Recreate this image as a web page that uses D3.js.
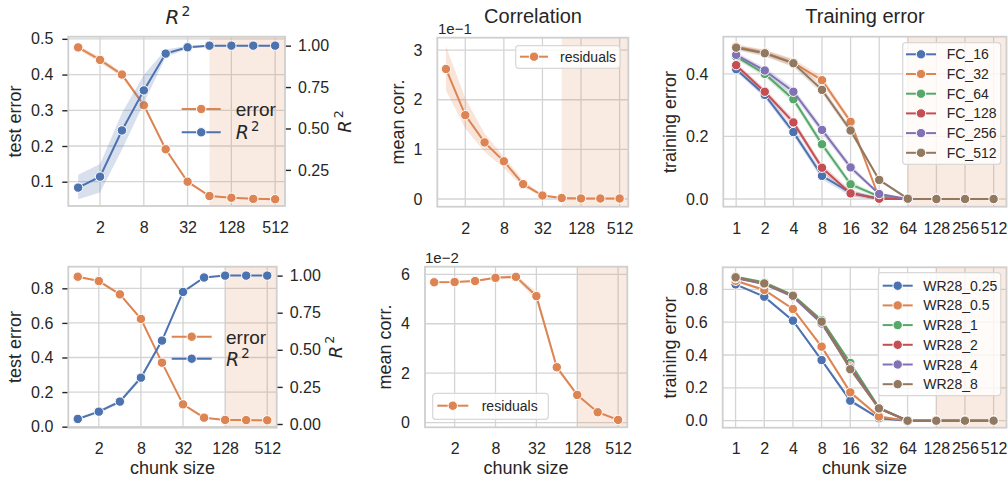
<!DOCTYPE html>
<html lang="en">
<head>
<meta charset="UTF-8">
<title>Chunk size: test error, correlation, training error</title>
<script src="https://d3js.org/d3.v7.min.js"></script>
<style>
  body { margin: 0; background: #fff; }
  svg text { font-family: "Liberation Sans", Arial, sans-serif; fill: #262626; }
</style>
</head>
<body>
<svg width="1008" height="477"></svg>
<script>
// ---- data ----
var chunkSizes = [1, 2, 4, 8, 16, 32, 64, 128, 256, 512];
var sparseTicks = [2, 8, 32, 128, 512];

// top-left: test error (left axis) and R^2 (right axis)
var errTop    = [0.476, 0.441, 0.400, 0.314, 0.191, 0.100, 0.060, 0.055, 0.052, 0.051];
var errTopSd  = [0.006, 0.008, 0.006, 0.006, 0.004, 0.002, 0.002, 0.002, 0.002, 0.002];
var r2Top     = [0.143, 0.209, 0.488, 0.730, 0.952, 0.990, 1.000, 1.000, 1.000, 1.000];
var r2TopLo   = [0.073, 0.113, 0.371, 0.653, 0.932, 0.980, 0.996, 0.997, 0.997, 0.997];
var r2TopHi   = [0.220, 0.286, 0.593, 0.825, 0.976, 1.000, 1.004, 1.003, 1.003, 1.003];

// top-middle: mean corr. (x 1e-1)
var corrTop   = [2.62, 1.69, 1.14, 0.76, 0.30, 0.07, 0.02, 0.01, 0.01, 0.01];
var corrTopLo = [2.19, 1.42, 0.95, 0.62, 0.24, 0.05, 0.01, 0.00, 0.00, 0.00];
var corrTopHi = [3.08, 2.03, 1.32, 0.85, 0.38, 0.09, 0.03, 0.02, 0.02, 0.02];

// top-right: training error per FC width
var fcNames = ["FC_16", "FC_32", "FC_64", "FC_128", "FC_256", "FC_512"];
var fc16  = [0.415, 0.333, 0.214, 0.074, 0.020, 0.001, 0, 0, 0, 0];
var fc32  = [0.487, 0.468, 0.436, 0.380, 0.247, 0.003, 0, 0, 0, 0];
var fc64  = [0.455, 0.400, 0.319, 0.175, 0.047, 0.008, 0, 0, 0, 0];
var fc128 = [0.428, 0.343, 0.245, 0.100, 0.018, 0.001, 0, 0, 0, 0];
var fc256 = [0.461, 0.411, 0.343, 0.221, 0.101, 0.016, 0, 0, 0, 0];
var fc512 = [0.484, 0.466, 0.434, 0.349, 0.219, 0.061, 0.001, 0, 0, 0];
var fcSd  = [0.008, 0.010, 0.012, 0.012, 0.010, 0.004, 0.001, 0, 0, 0];

// bottom-left
var errBot    = [0.867, 0.842, 0.765, 0.623, 0.370, 0.129, 0.052, 0.039, 0.038, 0.037];
var errBotSd  = [0.004, 0.004, 0.004, 0.004, 0.004, 0.003, 0.002, 0.002, 0.002, 0.002];
var r2Bot     = [0.034, 0.083, 0.151, 0.312, 0.562, 0.890, 0.987, 1.000, 1.000, 1.000];
var r2BotSd   = [0.006, 0.010, 0.012, 0.014, 0.012, 0.008, 0.003, 0.002, 0.002, 0.002];

// bottom-middle: mean corr. (x 1e-2)
var corrBot   = [5.68, 5.69, 5.73, 5.86, 5.90, 5.12, 2.24, 1.12, 0.42, 0.11];
var corrBotSd = [0.03, 0.03, 0.04, 0.05, 0.08, 0.18, 0.10, 0.06, 0.04, 0.03];

// bottom-right: training error per WR28 width
var wrNames = ["WR28_0.25", "WR28_0.5", "WR28_1", "WR28_2", "WR28_4", "WR28_8"];
var wr025 = [0.830, 0.755, 0.609, 0.369, 0.122, 0.015, 0, 0, 0, 0];
var wr05  = [0.852, 0.796, 0.680, 0.451, 0.173, 0.025, 0, 0, 0, 0];
var wr1   = [0.876, 0.842, 0.765, 0.612, 0.352, 0.080, 0, 0, 0, 0];
var wr2   = [0.870, 0.835, 0.758, 0.598, 0.330, 0.076, 0, 0, 0, 0];
var wr4   = [0.868, 0.832, 0.755, 0.592, 0.322, 0.074, 0, 0, 0, 0];
var wr8   = [0.873, 0.836, 0.761, 0.603, 0.313, 0.075, 0, 0, 0, 0];
var wrSd  = [0.006, 0.008, 0.008, 0.010, 0.012, 0.006, 0.001, 0, 0, 0];

var palette = ["#4c72b0", "#dd8452", "#55a868", "#c44e52", "#8172b3", "#937860"];

var svg = d3.select("svg");

function lower(m, s) { return m.map(function(v, i) { return v - s[i]; }); }
function upper(m, s) { return m.map(function(v, i) { return v + s[i]; }); }

// one axes box: grid, shaded span, left axis, bottom axis
function panel(p) {
  var x = d3.scaleLog().base(2)
    .domain([Math.pow(2, -0.45), Math.pow(2, 9.45)])
    .range([p.left, p.right]);
  var y = d3.scaleLinear().domain(p.yDomain).range([p.bottom, p.top]);
  var g = svg.append("g");

  g.append("rect")
    .attr("x", p.left).attr("y", p.top)
    .attr("width", p.right - p.left).attr("height", p.bottom - p.top)
    .attr("fill", "#fff");

  g.selectAll(".vgrid").data(p.xTicks).join("line")
    .attr("x1", function(d) { return x(d); }).attr("x2", function(d) { return x(d); })
    .attr("y1", p.top).attr("y2", p.bottom)
    .attr("stroke", "#d4d4d4").attr("stroke-width", 1.3);
  g.selectAll(".hgrid").data(p.yTicks).join("line")
    .attr("x1", p.left).attr("x2", p.right)
    .attr("y1", function(d) { return y(d); }).attr("y2", function(d) { return y(d); })
    .attr("stroke", "#d4d4d4").attr("stroke-width", 1.3);

  g.append("rect")
    .attr("x", x(p.shadeFrom)).attr("y", p.top)
    .attr("width", p.right - x(p.shadeFrom)).attr("height", p.bottom - p.top)
    .attr("fill", "#dd8452").attr("opacity", 0.17);

  var ay = g.append("g")
    .attr("transform", "translate(" + p.left + ",0)")
    .call(d3.axisLeft(y).tickValues(p.yTicks).tickFormat(d3.format(p.yFmt))
      .tickSize(p.ticks ? 6 : 0).tickPadding(p.ticks ? 9 : 15));
  ay.attr("font-size", 16);
  ay.select(".domain").remove();
  ay.selectAll("line").attr("stroke", "#262626").attr("stroke-width", 1.4);

  var ax = g.append("g")
    .attr("transform", "translate(0," + p.bottom + ")")
    .call(d3.axisBottom(x).tickValues(p.xTicks).tickFormat(d3.format("d"))
      .tickSize(0).tickPadding(p.xPad));
  ax.attr("font-size", 16);
  ax.select(".domain").remove();

  return { x: x, y: y, g: g, p: p };
}

function frame(P) {
  var p = P.p;
  svg.append("rect")
    .attr("x", p.left).attr("y", p.top)
    .attr("width", p.right - p.left).attr("height", p.bottom - p.top)
    .attr("fill", "none").attr("stroke", "#cfcfcf").attr("stroke-width", 1.8);
}

function series(P, y, mean, lo, hi, color) {
  var x = P.x, g = P.g;
  var area = d3.area()
    .x(function(d, i) { return x(chunkSizes[i]); })
    .y0(function(d, i) { return y(lo[i]); })
    .y1(function(d, i) { return y(hi[i]); });
  g.append("path").datum(mean).attr("d", area)
    .attr("fill", color).attr("opacity", 0.22);
  var line = d3.line()
    .x(function(d, i) { return x(chunkSizes[i]); })
    .y(function(d) { return y(d); });
  g.append("path").datum(mean).attr("d", line)
    .attr("fill", "none").attr("stroke", color).attr("stroke-width", 2);
  g.append("g").selectAll("circle").data(mean).join("circle")
    .attr("cx", function(d, i) { return x(chunkSizes[i]); })
    .attr("cy", function(d) { return y(d); })
    .attr("r", 4.7)
    .attr("fill", color).attr("stroke", "#fff").attr("stroke-width", 1);
}

function rightAxis(P, domain, ticks) {
  var p = P.p;
  var y2 = d3.scaleLinear().domain(domain).range([p.bottom, p.top]);
  var a = P.g.append("g")
    .attr("transform", "translate(" + p.right + ",0)")
    .call(d3.axisRight(y2).tickValues(ticks).tickFormat(d3.format(".2f"))
      .tickSize(6).tickPadding(7));
  a.attr("font-size", 16);
  a.select(".domain").remove();
  a.selectAll("line").attr("stroke", "#262626").attr("stroke-width", 1.4);
  return y2;
}

function rText(sel, size) {
  sel.append("tspan").attr("font-family", "DejaVu Sans").attr("font-style", "italic").text("R");
  sel.append("tspan").attr("font-family", "DejaVu Sans").attr("font-size", size * 0.7)
    .attr("dy", -size * 0.42).attr("dx", 2).text("2");
}

function yLabel(x, y, txt) {
  svg.append("text")
    .attr("transform", "translate(" + x + "," + y + ") rotate(-90)")
    .attr("text-anchor", "middle").attr("font-size", 18).text(txt);
}

function legend(items, o) {
  var lg = svg.append("g");
  if (o.box) {
    lg.append("rect")
      .attr("x", o.box[0]).attr("y", o.box[1])
      .attr("width", o.box[2] - o.box[0]).attr("height", o.box[3] - o.box[1])
      .attr("rx", 3).attr("fill", "#fff").attr("fill-opacity", 0.8)
      .attr("stroke", "#d8d8d8").attr("stroke-width", 1.2);
  }
  items.forEach(function(it, i) {
    var cy = o.y0 + i * o.dy;
    lg.append("line")
      .attr("x1", o.x0).attr("x2", o.x0 + o.len).attr("y1", cy).attr("y2", cy)
      .attr("stroke", it.color).attr("stroke-width", 2);
    lg.append("circle")
      .attr("cx", o.x0 + o.len / 2).attr("cy", cy).attr("r", 4.7)
      .attr("fill", it.color).attr("stroke", "#fff").attr("stroke-width", 1);
    var t = lg.append("text").attr("x", o.tx).attr("y", cy + o.size * 0.36)
      .attr("font-size", o.size);
    if (it.label === "R2") rText(t, o.size); else t.text(it.label);
  });
}

// ---- top-left ----
var A = panel({ left: 68.3, right: 285, top: 36.7, bottom: 206,
  yDomain: [0.032, 0.506], yTicks: [0.1, 0.2, 0.3, 0.4, 0.5], yFmt: ".1f",
  ticks: true, xTicks: sparseTicks, shadeFrom: 64, xPad: 16 });
series(A, A.y, errTop, lower(errTop, errTopSd), upper(errTop, errTopSd), palette[1]);
var A2 = rightAxis(A, [0.032, 1.054], [0.25, 0.5, 0.75, 1.0]);
series(A, A2, r2Top, r2TopLo, r2TopHi, palette[0]);
frame(A);

// ---- top-middle ----
var B = panel({ left: 437.3, right: 628.3, top: 37.7, bottom: 206.7,
  yDomain: [-0.155, 3.25], yTicks: [0, 1, 2, 3], yFmt: "d",
  ticks: false, xTicks: sparseTicks, shadeFrom: 64, xPad: 16 });
series(B, B.y, corrTop, corrTopLo, corrTopHi, palette[1]);
frame(B);

// ---- top-right ----
var C = panel({ left: 723.3, right: 1006.5, top: 36.7, bottom: 206.7,
  yDomain: [-0.0246, 0.519], yTicks: [0, 0.2, 0.4], yFmt: ".1f",
  ticks: false, xTicks: chunkSizes, shadeFrom: 64, xPad: 16 });
[fc16, fc32, fc64, fc128, fc256, fc512].forEach(function(s, i) {
  series(C, C.y, s, lower(s, fcSd), upper(s, fcSd), palette[i]);
});
frame(C);

// ---- bottom-left ----
var D = panel({ left: 68.3, right: 276.7, top: 266.7, bottom: 427.7,
  yDomain: [-0.006, 0.925], yTicks: [0, 0.2, 0.4, 0.6, 0.8], yFmt: ".1f",
  ticks: true, xTicks: sparseTicks, shadeFrom: 128, xPad: 15 });
series(D, D.y, errBot, lower(errBot, errBotSd), upper(errBot, errBotSd), palette[1]);
var D2 = rightAxis(D, [-0.025, 1.06], [0, 0.25, 0.5, 0.75, 1.0]);
series(D, D2, r2Bot, lower(r2Bot, r2BotSd), upper(r2Bot, r2BotSd), palette[0]);
frame(D);

// ---- bottom-middle ----
var E = panel({ left: 425, right: 627.3, top: 266.7, bottom: 427.3,
  yDomain: [-0.19, 6.31], yTicks: [0, 2, 4, 6], yFmt: "d",
  ticks: false, xTicks: sparseTicks, shadeFrom: 128, xPad: 15 });
series(E, E.y, corrBot, lower(corrBot, corrBotSd), upper(corrBot, corrBotSd), palette[1]);
frame(E);

// ---- bottom-right ----
var F = panel({ left: 722.7, right: 1006.5, top: 267.3, bottom: 427.7,
  yDomain: [-0.0426, 0.934], yTicks: [0, 0.2, 0.4, 0.6, 0.8], yFmt: ".1f",
  ticks: false, xTicks: chunkSizes, shadeFrom: 128, xPad: 15 });
[wr025, wr05, wr1, wr2, wr4, wr8].forEach(function(s, i) {
  series(F, F.y, s, lower(s, wrSd), upper(s, wrSd), palette[i]);
});
frame(F);

// ---- titles, labels, legends ----
var tA = svg.append("text").attr("x", 178).attr("y", 24).attr("text-anchor", "middle").attr("font-size", 20);
rText(tA, 20);
svg.append("text").attr("x", 533).attr("y", 22.5).attr("text-anchor", "middle").attr("font-size", 20).text("Correlation");
svg.append("text").attr("x", 865).attr("y", 22.5).attr("text-anchor", "middle").attr("font-size", 20).text("Training error");

svg.append("text").attr("x", 438).attr("y", 33.5).attr("font-size", 15).text("1e\u22121");
svg.append("text").attr("x", 425).attr("y", 263).attr("font-size", 15).text("1e\u22122");

yLabel(21, 121.5, "test error");
yLabel(21, 347, "test error");
yLabel(404, 122, "mean corr.");
yLabel(391, 347, "mean corr.");
yLabel(676, 122, "training error");
yLabel(676, 347.5, "training error");

[[351, 121.5], [342, 347]].forEach(function(c) {
  var t = svg.append("text")
    .attr("transform", "translate(" + c[0] + "," + c[1] + ") rotate(-90)")
    .attr("text-anchor", "middle").attr("font-size", 18);
  rText(t, 18);
});

svg.append("text").attr("x", 172.5).attr("y", 474).attr("text-anchor", "middle").attr("font-size", 18).text("chunk size");
svg.append("text").attr("x", 526).attr("y", 474).attr("text-anchor", "middle").attr("font-size", 18).text("chunk size");
svg.append("text").attr("x", 864.5).attr("y", 474).attr("text-anchor", "middle").attr("font-size", 18).text("chunk size");

var errR2 = [{ label: "error", color: palette[1] }, { label: "R2", color: palette[0] }];
legend(errR2, { x0: 181.7, len: 39, tx: 235.7, y0: 109, dy: 23.3, size: 19 });
legend(errR2, { x0: 171.7, len: 40, tx: 226, y0: 336.7, dy: 22, size: 19 });

var resid = [{ label: "residuals", color: palette[1] }];
legend(resid, { x0: 520, len: 28, tx: 560, y0: 56.7, dy: 0, size: 14, box: [515.7, 45.7, 620, 68.3] });
legend(resid, { x0: 437.3, len: 31, tx: 481.7, y0: 405.7, dy: 0, size: 14, box: [432.7, 393.3, 548.3, 419.3] });

legend(fcNames.map(function(n, i) { return { label: n, color: palette[i] }; }),
  { x0: 906, len: 30, tx: 946.7, y0: 54.3, dy: 19.7, size: 14, box: [902.7, 42.7, 1000.7, 164.3] });
legend(wrNames.map(function(n, i) { return { label: n, color: palette[i] }; }),
  { x0: 882.7, len: 30, tx: 923.3, y0: 285.7, dy: 19.7, size: 14, box: [878.3, 272.7, 1000.7, 395.7] });
</script>
</body>
</html>
